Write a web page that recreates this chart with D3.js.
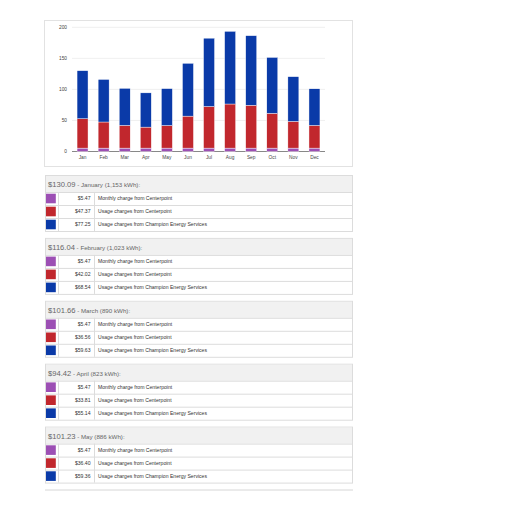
<!DOCTYPE html>
<html>
<head>
<meta charset="utf-8">
<script src="https://cdn.jsdelivr.net/npm/d3@7"></script>
<style>
  body { margin: 0; background: #fff; }
  text { font-family: "Liberation Sans", Arial, sans-serif; }
</style>
</head>
<body>
<div id="vis"></div>
<script>
var w = 512;
var h = 512;

// chart data
var months = ['Jan', 'Feb', 'Mar', 'Apr', 'May', 'Jun', 'Jul', 'Aug', 'Sep', 'Oct', 'Nov', 'Dec'];
var monthlyCharge = [5.47, 5.47, 5.47, 5.47, 5.47, 5.47, 5.47, 5.47, 5.47, 5.47, 5.47, 5.47];
var usageCenterpoint = [47.37, 42.02, 36.56, 33.81, 36.40, 51.5, 67, 71, 69, 56, 43, 36.5];
var usageChampion = [77.25, 68.54, 59.63, 55.14, 59.36, 85, 110, 117, 112, 90, 72, 59];
var yTicks = [0, 50, 100, 150, 200];

// table data
var billMonths = ['January', 'February', 'March', 'April', 'May'];
var billTotals = ['130.09', '116.04', '101.66', '94.42', '101.23'];
var billKwh = ['1,153', '1,023', '890', '823', '886'];
var chargeNames = ['Monthly charge from Centerpoint', 'Usage charges from Centerpoint', 'Usage charges from Champion Energy Services'];
var chargeColors = ['#9c4fb4', '#c1272d', '#0a3aa8'];

var svg = d3.select('#vis').append('svg')
  .attr('width', w)
  .attr('height', h);

// chart box
svg.append('rect')
  .attr('x', 44.5).attr('y', 20.5)
  .attr('width', 308).attr('height', 146)
  .attr('fill', 'none')
  .attr('stroke', '#e2e2e2');

var x = d3.scaleBand()
  .domain(months)
  .range([72, 325])
  .paddingInner(0.48)
  .paddingOuter(0.24);

var y = d3.scaleLinear()
  .domain([0, 200])
  .range([151.5, 27.3]);

// gridlines
svg.selectAll('.grid')
  .data(yTicks)
  .enter()
  .append('line')
  .attr('x1', 72).attr('x2', 325)
  .attr('y1', function(d) { return y(d); })
  .attr('y2', function(d) { return y(d); })
  .attr('stroke', function(d) { return d == 0 ? '#555' : '#e4e4e4'; })
  .attr('stroke-width', function(d) { return d == 0 ? 0.7 : 0.6; });

svg.selectAll('.ytick')
  .data(yTicks)
  .enter()
  .append('text')
  .attr('x', 67)
  .attr('y', function(d) { return y(d) + 1.7; })
  .attr('text-anchor', 'end')
  .attr('font-size', 4.8)
  .attr('fill', '#444')
  .text(function(d) { return d; });

// stacked bars
var rows = months.map(function(m, i) {
  return { month: m, a: monthlyCharge[i], b: usageCenterpoint[i], c: usageChampion[i] };
});
var stack = d3.stack().keys(['a', 'b', 'c']);
var series = stack(rows);

svg.selectAll('.series')
  .data(series)
  .enter()
  .append('g')
  .attr('fill', function(d, i) { return chargeColors[i]; })
  .selectAll('rect')
  .data(function(d) { return d; })
  .enter()
  .append('rect')
  .attr('x', function(d) { return x(d.data.month); })
  .attr('width', x.bandwidth())
  .attr('y', function(d) { return y(d[1]); })
  .attr('height', function(d) { return y(d[0]) - y(d[1]); })
  .attr('stroke', '#fff')
  .attr('stroke-width', 0.4);

svg.selectAll('.xlabel')
  .data(months)
  .enter()
  .append('text')
  .attr('x', function(d) { return x(d) + x.bandwidth() / 2; })
  .attr('y', 158.5)
  .attr('text-anchor', 'middle')
  .attr('font-size', 4.8)
  .attr('fill', '#444')
  .text(function(d) { return d; });

// bill tables
var tableTop = 175;
var tableStep = 62.9;
var headH = 17;
var rowH = 13;

billMonths.forEach(function(m, i) {
  var t = svg.append('g').attr('transform', 'translate(0,' + (tableTop + i * tableStep) + ')');

  t.append('rect')
    .attr('x', 45.5).attr('y', 0.5)
    .attr('width', 307).attr('height', headH + rowH * 3)
    .attr('fill', '#fff')
    .attr('stroke', '#dcdcdc');

  t.append('rect')
    .attr('x', 46).attr('y', 1)
    .attr('width', 306).attr('height', headH - 1)
    .attr('fill', '#f1f1f1');

  var head = t.append('text')
    .attr('x', 48)
    .attr('y', 12)
    .attr('fill', '#666');
  head.append('tspan').attr('font-size', 7.6).text('$' + billTotals[i]);
  head.append('tspan').attr('font-size', 6.2).text(' - ' + m + ' (' + billKwh[i] + ' kWh):');

  var amounts = [monthlyCharge[i], usageCenterpoint[i], usageChampion[i]];

  for (var j = 0; j < 3; j++) {
    var ry = headH + j * rowH;
    t.append('line')
      .attr('x1', 45.5).attr('x2', 352.5)
      .attr('y1', ry + 0.5).attr('y2', ry + 0.5)
      .attr('stroke', '#dcdcdc');
    t.append('rect')
      .attr('x', 46).attr('y', ry + 1.7)
      .attr('width', 9.8).attr('height', 9.6)
      .attr('fill', chargeColors[j]);
    t.append('text')
      .attr('x', 90.5)
      .attr('y', ry + 8.3)
      .attr('text-anchor', 'end')
      .attr('font-size', 5.1)
      .attr('fill', '#333')
      .text('$' + amounts[j].toFixed(2));
    t.append('text')
      .attr('x', 98)
      .attr('y', ry + 8.3)
      .attr('font-size', 5.1)
      .attr('fill', '#333')
      .text(chargeNames[j]);
  }

  // column dividers
  [58.5, 94.5].forEach(function(cx) {
    t.append('line')
      .attr('x1', cx).attr('x2', cx)
      .attr('y1', headH).attr('y2', headH + rowH * 3)
      .attr('stroke', '#dcdcdc');
  });
});

// start of the next table, cut off at the bottom
svg.append('line')
  .attr('x1', 45).attr('x2', 353)
  .attr('y1', tableTop + 5 * tableStep + 0.5)
  .attr('y2', tableTop + 5 * tableStep + 0.5)
  .attr('stroke', '#d6d6d6');
</script>
</body>
</html>
